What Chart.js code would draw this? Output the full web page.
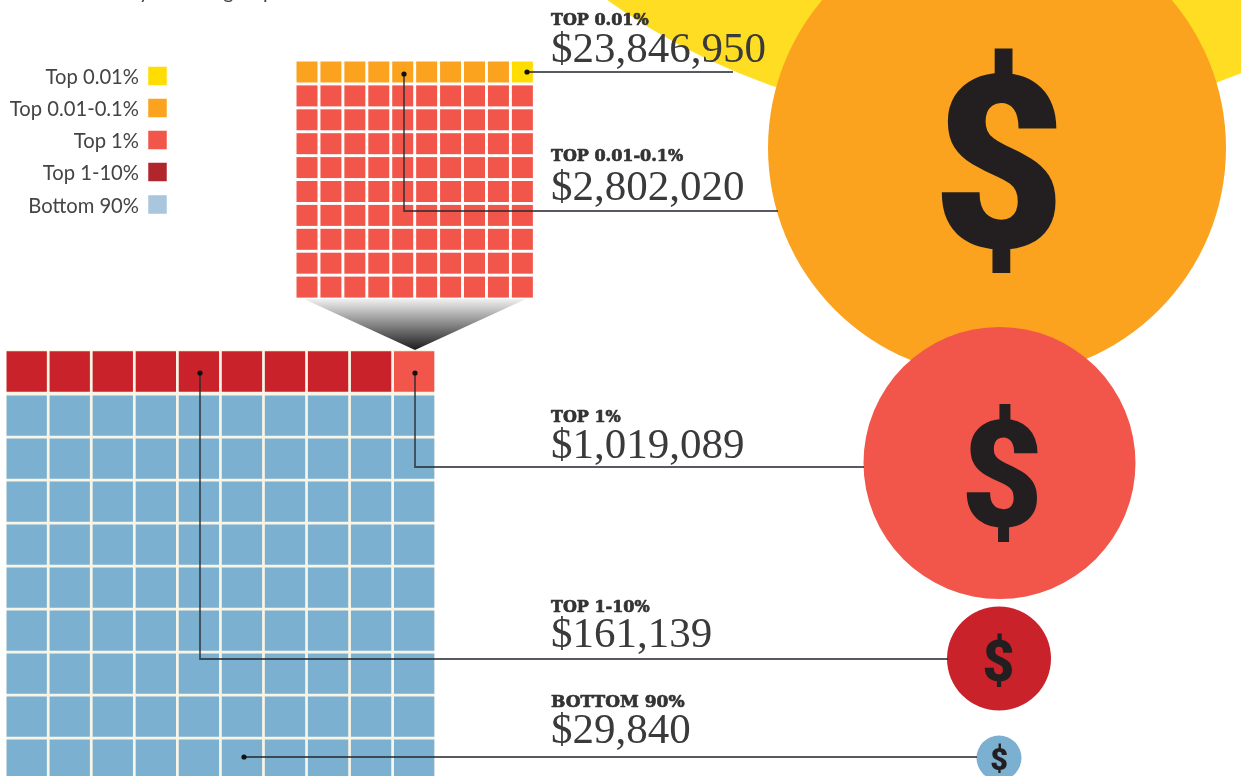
<!DOCTYPE html>
<html>
<head>
<meta charset="utf-8">
<style>html,body{margin:0;padding:0;background:#fff;overflow:hidden}canvas{display:block;filter:blur(0.45px)}</style>
<script src="https://cdn.jsdelivr.net/npm/chart.js@4/dist/chart.umd.min.js"></script>
</head>
<body>
<canvas id="c" width="1241" height="776"></canvas>
<script>
// ---- data ----
const categories   = ['Top 0.01%', 'Top 0.01-0.1%', 'Top 1%', 'Top 1-10%', 'Bottom 90%'];
const calloutNames = ['TOP 0.01%', 'TOP 0.01-0.1%', 'TOP 1%', 'TOP 1-10%', 'BOTTOM 90%'];
const avgIncome    = [23846950, 2802020, 1019089, 161139, 29840];
const topGridCounts    = [9, 1, 90];   // Top 0.01-0.1%, Top 0.01%, rest of the top 1%
const bottomGridCounts = [9, 1, 90];   // Top 1-10%, Top 1%, Bottom 90%

// ---- layout (in the chart's own scale units) ----
const colors = ['#ffdd00', '#fba31f', '#f2564a', '#c9222a', '#7bb0d1'];
const legendColors = ['#ffdd00', '#fba31f', '#f2564a', '#b1262c', '#a9c6dc'];
const bubblePos = [[990,-534],[997,148],[999.5,463],[999,658.5],[999,758]];
const bubbleR   = [657,229,136,52,22.5];
const glyphBox  = [null,[999,159.5,225],[1002,472.5,139],[998.5,660,54],[999,758,30]];
const legendY   = [76,108,140,172,204.5];
const nameY     = [25,161,421.5,612,707];
const moneyY    = [62,200,458,647,743];
const leaders = [
  [[527,72],[733,72]],
  [[404,74],[404,211],[778,211]],
  [[415,373],[415,467],[864,467]],
  [[200,373],[200,659],[948,659]],
  [[244,757],[977,757]]
];
const topGrid    = {x0:307, y0:72,    dx:23.93, dy:23.9, side:21,  firstGap:0};
const bottomGrid = {x0:26.7,y0:371.5, dx:43.05, dy:43,   side:40.3,firstGap:1.2};

function gridPoints(g, i){
  const row = Math.floor(i/10), col = i%10;
  return {x:g.x0+col*g.dx, y:g.y0+row*g.dy+(row>0?g.firstGap:0)};
}
function cells(g, counts, order){
  let idx=0; const out=[];
  counts.forEach((n,k)=>{
    const data=[]; for(let j=0;j<n;j++) data.push(gridPoints(g,idx++));
    out.push({type:'scatter',data,pointStyle:'rect',pointRadius:g.side/Math.SQRT2,pointHoverRadius:g.side/Math.SQRT2,
      pointBorderWidth:0,backgroundColor:colors[order[k]],borderColor:colors[order[k]],showLine:false,label:categories[order[k]]});
  });
  return out;
}
// datasets listed first are drawn on top
function build(){
  const front=[];
  leaders.forEach(l=>{
    front.push({type:'scatter',data:[{x:l[0][0],y:l[0][1]}],pointRadius:2.6,pointBorderWidth:0,backgroundColor:'#111',showLine:false});
    front.push({type:'scatter',data:l.map(p=>({x:p[0],y:p[1]})),showLine:true,borderColor:'rgba(40,45,50,0.78)',borderWidth:1.8,pointRadius:0,tension:0,fill:false});
  });
  categories.forEach((c,i)=>{
    front.push({type:'scatter',label:c,data:[{x:157.5,y:legendY[i]}],pointStyle:'rect',pointRadius:18.5/Math.SQRT2,pointBorderWidth:0,backgroundColor:legendColors[i],showLine:false});
  });
  front.push({type:'scatter',data:[{x:304,y:299},{x:526,y:299},{x:415,y:350}],showLine:true,fill:'shape',borderWidth:0,pointRadius:0,tension:0,
    backgroundColor(ctx){
      const ch=ctx.chart, k=ch.height/776;
      const g=ch.ctx.createLinearGradient(0,299*k,0,350*k);
      g.addColorStop(0,'#f0f0f0');g.addColorStop(1,'#1c1c1c');return g;
    }});
  front.push(...cells(bottomGrid,bottomGridCounts,[3,2,4]));
  front.push(...cells(topGrid,topGridCounts,[1,0,2]));
  front.push({type:'scatter',data:[{x:220.5,y:564}],pointStyle:'rect',pointRadius:428/Math.SQRT2,pointBorderWidth:0,backgroundColor:'#f8f4e6',showLine:false});
  for(let i=avgIncome.length-1;i>=0;i--){
    front.push({type:'bubble',label:categories[i],data:[{x:bubblePos[i][0],y:bubblePos[i][1],r:bubbleR[i],v:avgIncome[i]}],
      backgroundColor:i===0?'#ffdd22':colors[i],borderWidth:0});
  }
  return front;
}
const datasets=build();

const textPlugin={id:'texts',afterDatasetsDraw(chart){
  const c=chart.ctx,X=chart.scales.x,Y=chart.scales.y;
  c.save();
  // clipped heading at the top edge
  c.fillStyle='#444';c.textAlign='left';c.textBaseline='alphabetic';
  c.font='20px Lato';c.fillText('by income group',X.getPixelForValue(128),Y.getPixelForValue(-1));
  // legend
  c.textAlign='right';c.textBaseline='middle';c.fillStyle='#444446';c.font='20.2px Lato';
  categories.forEach((t,i)=>c.fillText(t,X.getPixelForValue(139),Y.getPixelForValue(legendY[i]+1.5)));
  // callouts
  c.textAlign='left';c.textBaseline='alphabetic';c.lineJoin='round';
  calloutNames.forEach((t,i)=>{
    c.fillStyle='#333335';c.strokeStyle='#333335';c.lineWidth=0.7;
    c.font='bold '+(i===4?17:16)+'px "DejaVu Serif"';
    c.fillText(t,X.getPixelForValue(551),Y.getPixelForValue(nameY[i]));
    c.strokeText(t,X.getPixelForValue(551),Y.getPixelForValue(nameY[i]));
    c.fillStyle='#3a3a3c';c.font='43px "Liberation Serif"';
    c.fillText('$'+avgIncome[i].toLocaleString('en-US'),X.getPixelForValue(551),Y.getPixelForValue(moneyY[i]));
  });
  // dollar signs fitted into their boxes
  c.fillStyle='#231f20';c.font='900 200px Roboto';c.textAlign='left';c.textBaseline='alphabetic';
  const m=c.measureText('$');
  const inkW=m.actualBoundingBoxLeft+m.actualBoundingBoxRight,inkH=m.actualBoundingBoxAscent+m.actualBoundingBoxDescent;
  glyphBox.forEach(b=>{
    if(!b)return;
    const h=b[2],w=h*0.51,sx=w/inkW,sy=h/inkH;
    c.save();
    c.translate(X.getPixelForValue(b[0]),Y.getPixelForValue(b[1]));
    c.scale(sx,sy);
    c.fillText('$',-inkW/2+m.actualBoundingBoxLeft,(m.actualBoundingBoxAscent-m.actualBoundingBoxDescent)/2);
    c.restore();
  });
  c.restore();
}};

new Chart(document.getElementById('c'),{
  type:'scatter',
  data:{datasets},
  options:{
    responsive:false,animation:false,
    layout:{padding:0,autoPadding:false},
    plugins:{legend:{display:false},tooltip:{enabled:false},title:{display:false}},
    events:[],
    scales:{
      x:{type:'linear',min:0,max:1241,display:false},
      y:{type:'linear',min:0,max:776,reverse:true,display:false}
    }
  },
  plugins:[textPlugin]
});
</script>
</body>
</html>
